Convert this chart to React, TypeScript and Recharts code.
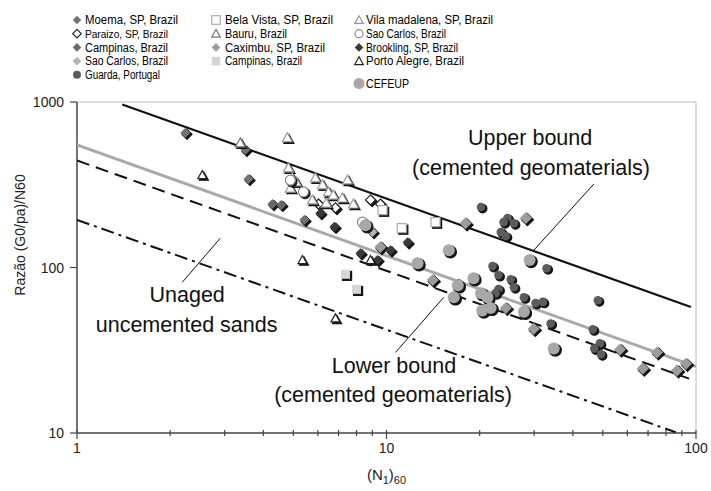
import React from "react";
import { ScatterChart, Scatter, XAxis, YAxis, ReferenceLine } from "recharts";

type Pt = { x: number; y: number };
type Kind = "diamond" | "circle" | "square" | "triangle";

const FONT = "'Liberation Sans', Arial, Helvetica, sans-serif";
const NARROW = "'Liberation Sans Narrow', 'Arial Narrow', 'Liberation Sans', Arial, sans-serif";

// axis ticks (log scales)
const X_TICKS = [1, 2, 3, 4, 5, 6, 7, 8, 9, 10, 20, 30, 40, 50, 60, 70, 80, 90, 100];
const X_LABELS = [1, 10, 100];
const Y_TICKS = [10, 100, 1000];

// measured points, (N1)60 vs G0/pa / N60
const moema: Pt[] = [
  { x: 2.24, y: 652 }, { x: 3.5, y: 514 }, { x: 3.58, y: 343 }, { x: 5.43, y: 194 },
];
const paraizo: Pt[] = [
  { x: 6.03, y: 242 }, { x: 6.84, y: 229 }, { x: 8.88, y: 256 }, { x: 9.56, y: 242 },
];
const campinasA: Pt[] = [{ x: 4.28, y: 242 }, { x: 4.57, y: 239 }];
const saoCarlosA: Pt[] = [{ x: 9.01, y: 164 }];
const guarda: Pt[] = [
  { x: 20.2, y: 232 }, { x: 24.6, y: 199 }, { x: 25.8, y: 185 }, { x: 23.9, y: 188 },
  { x: 23.4, y: 164 }, { x: 24.3, y: 155 }, { x: 32.9, y: 99 }, { x: 22.0, y: 102 },
  { x: 23.0, y: 90 }, { x: 25.2, y: 85 }, { x: 25.8, y: 76 }, { x: 23.0, y: 74 },
  { x: 22.5, y: 70 }, { x: 27.8, y: 66 }, { x: 30.3, y: 61 }, { x: 32.0, y: 62 },
  { x: 33.9, y: 45.9 }, { x: 48.2, y: 63.4 }, { x: 46.4, y: 42.3 }, { x: 48.9, y: 34.8 },
  { x: 46.9, y: 32.4 }, { x: 49.3, y: 29.9 },
];
const belaVista: Pt[] = [{ x: 9.71, y: 222 }, { x: 11.2, y: 173 }, { x: 14.4, y: 188 }];
const bauru: Pt[] = [{ x: 3.37, y: 566 }];
const caximbu: Pt[] = [
  { x: 9.56, y: 133 }, { x: 14.1, y: 84 }, { x: 18.0, y: 185 }, { x: 28.2, y: 199 },
  { x: 24.3, y: 57 }, { x: 29.9, y: 42.6 }, { x: 56.8, y: 32.0 }, { x: 74.8, y: 30.7 },
  { x: 92.8, y: 26.2 }, { x: 67.3, y: 24.5 }, { x: 86.8, y: 23.9 },
];
const campinasB: Pt[] = [{ x: 7.37, y: 91 }, { x: 8.0, y: 73.8 }];
const vilaMadalena: Pt[] = [
  { x: 4.78, y: 608 }, { x: 4.82, y: 400 }, { x: 4.96, y: 348 }, { x: 4.89, y: 302 },
  { x: 5.11, y: 329 }, { x: 5.89, y: 348 }, { x: 6.21, y: 316 }, { x: 6.49, y: 286 },
  { x: 7.48, y: 338 }, { x: 6.73, y: 274 }, { x: 7.2, y: 263 }, { x: 7.82, y: 242 },
  { x: 5.76, y: 256 }, { x: 6.39, y: 245 },
];
const saoCarlosB: Pt[] = [{ x: 5.39, y: 286 }, { x: 4.89, y: 337 }, { x: 8.36, y: 188 }];
const brookling: Pt[] = [
  { x: 6.11, y: 213 }, { x: 6.79, y: 176 }, { x: 8.24, y: 122 }, { x: 9.35, y: 111 },
  { x: 10.3, y: 127 }, { x: 11.7, y: 142 }, { x: 17.1, y: 80 },
];
const portoAlegre: Pt[] = [
  { x: 2.54, y: 362 }, { x: 5.35, y: 111 }, { x: 6.84, y: 49.3 }, { x: 8.88, y: 111 },
];
const cefeup: Pt[] = [
  { x: 8.55, y: 180 }, { x: 12.6, y: 106 }, { x: 15.9, y: 127 }, { x: 29.0, y: 111 },
  { x: 19.1, y: 86 }, { x: 17.0, y: 78 }, { x: 16.5, y: 66 }, { x: 20.2, y: 70 },
  { x: 21.2, y: 66 }, { x: 20.4, y: 55 }, { x: 21.7, y: 57 }, { x: 27.8, y: 54 },
  { x: 34.7, y: 32.4 },
];

// bounds (power laws -> straight lines on log-log, end points only)
const upperBound: Pt[] = [{ x: 1.4, y: 967 }, { x: 96.3, y: 57.7 }];
const fitLine: Pt[] = [{ x: 1, y: 551 }, { x: 100, y: 25.2 }];
const lowerBound: Pt[] = [{ x: 1, y: 443 }, { x: 95, y: 21.3 }];
const unagedSands: Pt[] = [{ x: 1, y: 194 }, { x: 86, y: 10.1 }];

// leader lines for the annotations
const leaderUpper: Pt[] = [{ x: 46.8, y: 320 }, { x: 29.9, y: 127 }];
const leaderUnaged: Pt[] = [{ x: 2.9, y: 150 }, { x: 2.19, y: 81.5 }];
const leaderLower: Pt[] = [{ x: 15.3, y: 66 }, { x: 10.7, y: 30.7 }];

const notes = [
  { x: 29.1, y: 550, text: "Upper bound" },
  { x: 29.3, y: 362, text: "(cemented geomaterials)" },
  { x: 2.27, y: 62.1, text: "Unaged" },
  { x: 2.26, y: 40.9, text: "uncemented sands" },
  { x: 10.57, y: 23.0, text: "Lower bound" },
  { x: 10.5, y: 15.5, text: "(cemented geomaterials)" },
];

type Series = {
  name: string;
  data: Pt[];
  kind: Kind;
  fill: string;
  stroke: string;
  size: number;
};

const SERIES: Series[] = [
  { name: "Moema, SP, Brazil", data: moema, kind: "diamond", fill: "#737373", stroke: "none", size: 5 },
  { name: "Paraizo, SP, Brazil", data: paraizo, kind: "diamond", fill: "#fff", stroke: "#222", size: 5 },
  { name: "Campinas, Brazil", data: campinasA, kind: "diamond", fill: "#6a6a6a", stroke: "none", size: 5 },
  { name: "Sao Carlos, Brazil", data: saoCarlosA, kind: "diamond", fill: "#b3b3b3", stroke: "none", size: 5 },
  { name: "Bela Vista, SP, Brazil", data: belaVista, kind: "square", fill: "#fff", stroke: "#aaa", size: 4.5 },
  { name: "Bauru, Brazil", data: bauru, kind: "triangle", fill: "#fff", stroke: "#777", size: 5 },
  { name: "Caximbu, SP, Brazil", data: caximbu, kind: "diamond", fill: "#9c9c9c", stroke: "none", size: 6 },
  { name: "Campinas, Brazil", data: campinasB, kind: "square", fill: "#d6d6d6", stroke: "none", size: 4.5 },
  { name: "Vila madalena, SP, Brazil", data: vilaMadalena, kind: "triangle", fill: "#fff", stroke: "#999", size: 5 },
  { name: "Sao Carlos, Brazil", data: saoCarlosB, kind: "circle", fill: "#fff", stroke: "#888", size: 5 },
  { name: "Brookling, SP, Brazil", data: brookling, kind: "diamond", fill: "#3a3a3a", stroke: "none", size: 5 },
  { name: "Porto Alegre, Brazil", data: portoAlegre, kind: "triangle", fill: "#fff", stroke: "#222", size: 4.5 },
  { name: "Guarda, Portugal", data: guarda, kind: "circle", fill: "#5c5c5c", stroke: "none", size: 4.3 },
  { name: "CEFEUP", data: cefeup, kind: "circle", fill: "#a8a8a8", stroke: "none", size: 6 },
];

// legend placement: [column, row, text width, font size]
const LEGEND_LAYOUT: Record<number, [number, number, number, number]> = {
  0: [0, 0, 93, 12],
  1: [0, 1, 83, 11.5],
  2: [0, 2, 83, 12],
  3: [0, 3, 83, 12],
  12: [0, 4, 75, 12],
  4: [1, 0, 108, 12],
  5: [1, 1, 62, 12],
  6: [1, 2, 100, 12],
  7: [1, 3, 77, 12],
  8: [2, 0, 127, 12],
  9: [2, 1, 80, 12],
  10: [2, 2, 92, 12],
  11: [2, 3, 98, 12],
  13: [2, 5, 43, 12],
};
const COL_MARK = [77, 216, 359];
const COL_TEXT = [85, 225, 366];
const ROW_Y = [20, 33.7, 47.4, 61.1, 74.8, 83.5];

function Marker({ kind, cx, cy, s, fill, stroke, shadow }: {
  kind: Kind; cx: number; cy: number; s: number; fill: string; stroke: string; shadow?: boolean;
}) {
  const body = (dx: number, dy: number, f: string, st: string) => {
    const x = cx + dx;
    const y = cy + dy;
    const common = { fill: f, stroke: st, strokeWidth: 1.2 };
    if (kind === "circle") return <circle cx={x} cy={y} r={s} {...common} />;
    if (kind === "square") return <rect x={x - s} y={y - s} width={2 * s} height={2 * s} {...common} />;
    if (kind === "triangle")
      return <polygon points={`${x},${y - s} ${x + s},${y + s * 0.8} ${x - s},${y + s * 0.8}`} {...common} />;
    return <polygon points={`${x},${y - s} ${x + s},${y} ${x},${y + s} ${x - s},${y}`} {...common} />;
  };
  return (
    <g>
      {shadow && body(1.6, 1.6, "#141414", "#141414")}
      {body(0, 0, fill, stroke)}
    </g>
  );
}

function XTick(props: any) {
  const { x, y, payload } = props;
  const major = X_LABELS.includes(payload.value);
  return (
    <g>
      <line x1={x} x2={x} y1={y - 3} y2={y + (major ? 6 : 3)} stroke="#444" strokeWidth={1.2} />
      {major && (
        <text x={x} y={y + 20} textAnchor="middle" fontSize={14} fill="#222" fontFamily={FONT}>
          {payload.value}
        </text>
      )}
    </g>
  );
}

function YTick(props: any) {
  const { x, y, payload } = props;
  return (
    <g>
      <line x1={x - 7} x2={x} y1={y} y2={y} stroke="#444" strokeWidth={1.2} />
      <text x={x - 13} y={y + 5} textAnchor="end" fontSize={14} fill="#222" fontFamily={FONT}>
        {payload.value}
      </text>
    </g>
  );
}

function XTitle(props: any) {
  const { x, y, width } = props.viewBox;
  return (
    <text x={x + width / 2} y={y + 47} textAnchor="middle" fontSize={15} fill="#222" fontFamily={FONT}>
      (N<tspan fontSize={11} dy={4}>1</tspan>
      <tspan dy={-4}>)</tspan>
      <tspan fontSize={11} dy={4}>60</tspan>
    </text>
  );
}

function YTitle(props: any) {
  const { y } = props.viewBox;
  const cy = y + 133;
  return (
    <text x={25} y={cy} transform={`rotate(-90 25 ${cy})`} textAnchor="middle" fontSize={14} fill="#222" fontFamily={FONT}>
      Razão (G0/pa)/N60
    </text>
  );
}

const noShape = () => <g />;

function Legend() {
  return (
    <svg width={711} height={95} style={{ position: "absolute", left: 0, top: 0 }}>
      {SERIES.map((s, i) => {
        const [col, row, w, fs] = LEGEND_LAYOUT[i];
        const cy = ROW_Y[row];
        const big = s.name === "CEFEUP";
        return (
          <g key={i}>
            <Marker kind={s.kind} cx={COL_MARK[col]} cy={cy} s={big ? 5.5 : s.kind === "circle" ? 4 : 4.3} fill={s.fill} stroke={s.stroke} />
            <text x={COL_TEXT[col]} y={cy + 4.3} fontSize={fs} fill="#000" fontFamily={NARROW} textLength={w} lengthAdjust="spacingAndGlyphs">
              {s.name}
            </text>
          </g>
        );
      })}
    </svg>
  );
}

export default function App() {
  return (
    <div style={{ position: "absolute", left: 0, top: 0, width: 711, height: 491, background: "#fff" }}>
      <ScatterChart width={711} height={491} margin={{ top: 102, right: 15, bottom: 28, left: 27 }}>
        <XAxis
          type="number"
          dataKey="x"
          scale="log"
          domain={[1, 100]}
          ticks={X_TICKS}
          interval={0}
          allowDataOverflow
          tick={(p: any) => <XTick {...p} />}
          tickLine={false}
          tickSize={0}
          tickMargin={0}
          axisLine={{ stroke: "#444", strokeWidth: 1.5 }}
          height={30}
          label={(p: any) => <XTitle {...p} />}
        />
        <YAxis
          type="number"
          dataKey="y"
          scale="log"
          domain={[10, 1000]}
          ticks={Y_TICKS}
          interval={0}
          allowDataOverflow
          tick={(p: any) => <YTick {...p} />}
          tickLine={false}
          tickSize={0}
          tickMargin={0}
          axisLine={{ stroke: "#444", strokeWidth: 1.5 }}
          width={50}
          label={(p: any) => <YTitle {...p} />}
        />
        <ReferenceLine y={1000} stroke="#bdbdbd" strokeWidth={1} />
        <ReferenceLine x={100} stroke="#bdbdbd" strokeWidth={1} />

        <Scatter data={unagedSands} shape={noShape} isAnimationActive={false}
          line={{ stroke: "#111", strokeWidth: 2, strokeDasharray: "13 5 3 5" }} />
        <Scatter data={lowerBound} shape={noShape} isAnimationActive={false}
          line={{ stroke: "#111", strokeWidth: 2, strokeDasharray: "13 7" }} />
        <Scatter data={upperBound} shape={noShape} isAnimationActive={false}
          line={{ stroke: "#111", strokeWidth: 2.2 }} />
        <Scatter data={fitLine} shape={noShape} isAnimationActive={false}
          line={{ stroke: "#a9a9a9", strokeWidth: 3 }} />

        {SERIES.map((s, i) => (
          <Scatter
            key={i}
            name={s.name}
            data={s.data}
            isAnimationActive={false}
            shape={(p: any) => (
              <Marker kind={s.kind} cx={p.cx} cy={p.cy} s={s.size} fill={s.fill} stroke={s.stroke} shadow />
            )}
          />
        ))}

        <Scatter data={leaderUpper} shape={noShape} isAnimationActive={false} line={{ stroke: "#111", strokeWidth: 1 }} />
        <Scatter data={leaderUnaged} shape={noShape} isAnimationActive={false} line={{ stroke: "#111", strokeWidth: 1 }} />
        <Scatter data={leaderLower} shape={noShape} isAnimationActive={false} line={{ stroke: "#111", strokeWidth: 1 }} />

        <Scatter
          data={notes}
          isAnimationActive={false}
          shape={(p: any) => (
            <text x={p.cx} y={p.cy} textAnchor="middle" fontSize={21.5} fill="#111" fontFamily={FONT}>
              {p.payload.text}
            </text>
          )}
        />
      </ScatterChart>
      <Legend />
    </div>
  );
}
